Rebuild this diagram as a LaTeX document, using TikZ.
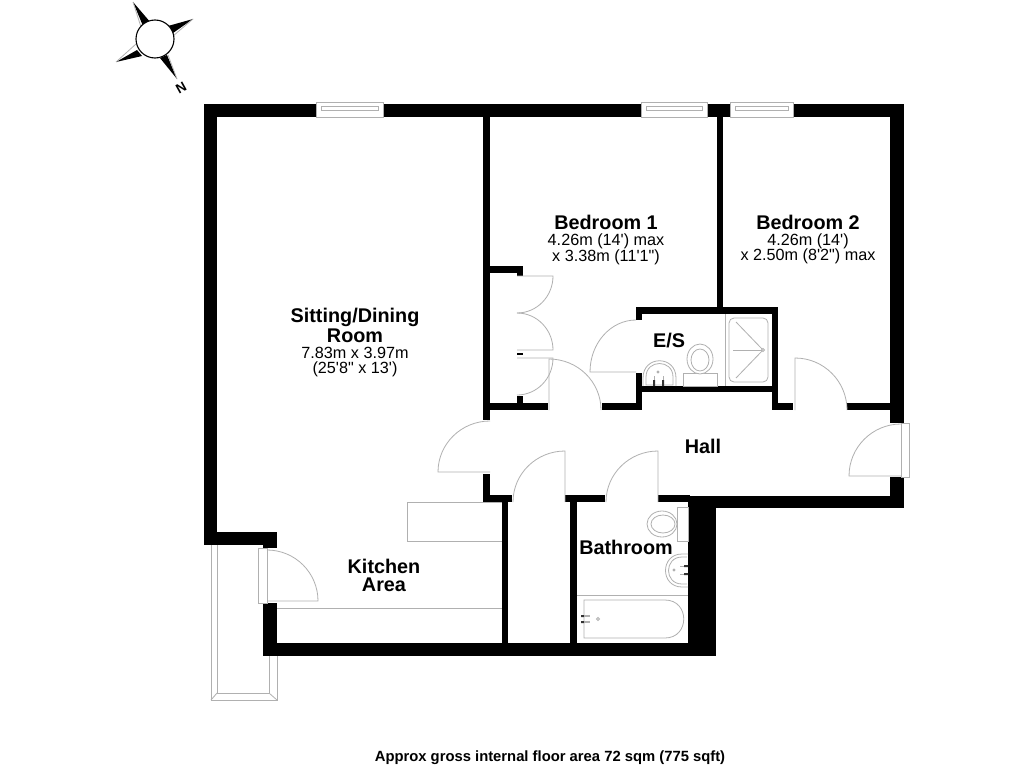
\documentclass[tikz,border=0pt]{standalone}
\usepackage{fontspec}
\usetikzlibrary{calc}
\newfontfamily\lab{Liberation Sans}
\definecolor{ln}{HTML}{B0B0B0}
\tikzset{
  x=1pt,y=-1pt,
  thinln/.style={draw=ln,line width=0.8pt},
  wallfill/.style={fill=black,draw=none},
  title/.style={font=\lab\bfseries\fontsize{19.8}{19.8}\selectfont,inner sep=0pt,anchor=center},
  dims/.style={font=\lab\fontsize{16.2}{16.2}\selectfont,inner sep=0pt,anchor=center},
}
\newcommand{\wallr}[4]{\fill[wallfill] (#1,#2) rectangle (#3,#4);}
\newcommand{\doorq}[4]{\draw[thinln,line join=round] (#1) -- (#2) .. controls ($(#2)!0.5523!(#4)$) and ($(#3)!0.5523!(#4)$) .. (#3);}
\newcommand{\windowr}[2]{%
  \draw[thinln,fill=white] (#1,102) rectangle (#2,117);
  \draw[thinln,line width=0.6pt] ($(#1,106)+(5,0)$) rectangle ($(#2,110)+(-5,0)$);
}
\begin{document}
\begin{tikzpicture}
\useasboundingbox (0,0) rectangle (1024,768);
\fill[white] (0,0) rectangle (1024,768);
% balcony
\draw[thinln] (211,545) -- (211,700) -- (277,700) -- (277,655);
\draw[thinln] (217,545) -- (217,693) -- (269,693) -- (269,655);
\draw[thinln] (211,700) -- (217,693) (277,700) -- (269,693);
% worktops
\draw[thinln] (407,502) rectangle (502,541);
\draw[thinln] (277,608) -- (502,608);
% outer walls
\wallr{204}{104}{904}{117}
\wallr{204}{104}{217}{545}
\wallr{204}{532}{277}{545}
\wallr{263}{532}{277}{548}
\wallr{263}{603}{277}{656}
\wallr{263}{643}{716}{656}
\wallr{688}{496}{716}{656}
\wallr{688}{496}{904}{508}
\wallr{890}{104}{904}{423}
\wallr{890}{477}{904}{508}
% inner walls
\wallr{483}{117}{490}{420}
\wallr{717}{117}{723}{307}
\wallr{490}{266}{523}{273}
\wallr{517}{266}{523}{276}
\wallr{517}{396}{523}{403}
\wallr{483}{403}{548}{410}
\wallr{602}{403}{642}{410}
\wallr{636}{307}{642}{320}
\wallr{636}{373}{642}{410}
\wallr{636}{307}{778}{314}
\wallr{642}{386}{778}{392}
\wallr{772}{307}{778}{410}
\wallr{772}{403}{793}{410}
\wallr{847}{403}{890}{410}
\wallr{483}{474}{490}{502}
\wallr{483}{495}{512}{502}
\wallr{565}{495}{605}{502}
\wallr{658}{495}{690}{502}
\wallr{502}{502}{508}{643}
\wallr{570}{502}{577}{643}
\wallr{517}{353}{523}{355}
% windows
\windowr{316}{383}
\windowr{641}{707}
\windowr{730}{793}
% door frames
\draw[thinln,fill=white] (901,423) rectangle (909,477);
\draw[thinln,fill=white] (258,548) rectangle (267,603);
% doors
\doorq{490,472}{438,472}{490,421}{438,421}
\doorq{517,276}{553,276}{517,313}{553,313}
\doorq{517,350}{553,350}{517,313}{553,313}
\doorq{517,358}{553,358}{517,395}{553,395}
\doorq{549,410}{549,359}{601,410}{601,359}
\doorq{636,372}{590,372}{636,320}{590,320}
\doorq{565,502}{565,451}{513,502}{513,451}
\doorq{658,502}{658,451}{606,502}{606,451}
\doorq{795,410}{795,358}{847,410}{847,358}
\doorq{901,476}{849,476}{901,424}{849,424}
\doorq{267,601}{318,601}{267,550}{318,550}
% shower
\draw[thinln] (725,314) -- (725,386);
\draw[thinln,rounded corners=5pt] (729,318) rectangle (768,382);
\draw[thinln] (736,322) -- (763,350) -- (736,378);
\draw[thinln] (733,350) -- (763,350);
\draw[thinln,fill=white] (763,350) circle (1.5pt);
% E/S WC
\draw[thinln] (683,386) rectangle (717,373);
\draw[thinln,fill=white] (700,359) ellipse [x radius=13pt,y radius=15pt];
\draw[thinln] (700,360) ellipse [x radius=9pt,y radius=11pt];
% E/S basin
\draw[thinln] (643,386) -- (643,378) .. controls (643,355) and (676,355) .. (676,378) -- (676,386);
\draw[thinln] (646,385) -- (646,377) .. controls (646,359) and (673,359) .. (673,377) -- (673,385) -- cycle;
\draw[thinln,fill=white] (658,372) circle (1pt);
\fill[black!80] (653,380) rectangle (655,386) (662,380) rectangle (664,386);
\draw[ln,line width=1pt] (654,376) -- (654,380) (663,376) -- (663,380);
% bathroom WC
\draw[thinln] (677,507) rectangle (688,541);
\draw[thinln,fill=white] (662,524) ellipse [x radius=15pt,y radius=13pt];
\draw[thinln] (663,524) ellipse [x radius=12pt,y radius=9pt];
% bathroom basin
\draw[thinln] (688,554) -- (682,554) .. controls (660,554) and (660,587) .. (682,587) -- (688,587);
\draw[thinln] (687,557) -- (682,557) .. controls (664,557) and (664,584) .. (682,584) -- (687,584);
\draw[thinln,fill=white] (674,570) circle (1pt);
\fill[black!80] (684,565) rectangle (688,567) (684,573) rectangle (688,575);
\draw[ln,line width=1pt] (680,566) -- (684,566) (680,574) -- (684,574);
% bath
\draw[thinln] (577,595) -- (688,595);
\draw[thinln] (584,600) -- (665,600) .. controls (690,600) and (690,638) .. (665,638) -- (584,638) -- cycle;
\fill[black!80] (581,615) rectangle (584,617) (581,621) rectangle (584,623);
\draw[ln,line width=1.5pt] (584,616) -- (590,616) (584,622) -- (590,622);
\draw[thinln] (598,619) circle (1.5pt);
% compass
\fill[black] (133,2) -- (151,23) -- (143,26) -- cycle;
\draw[thinln] (133,2) -- (141,27);
\fill[black] (193,19) -- (168,26) -- (173,33) -- cycle;
\draw[thinln] (193,19) -- (173,36);
\fill[black] (116,62) -- (137,50) -- (142,56) -- cycle;
\draw[thinln] (116,62) -- (136,44);
\fill[black] (177,79) -- (160,58) -- (167,55) -- cycle;
\draw[thinln] (177,79) -- (168,55);
\draw[black,fill=white,line width=1.1pt] (155,39) circle (19pt);
\node[font=\lab\bfseries\fontsize{13.5}{13.5}\selectfont,inner sep=0pt,rotate=-151] (northlabel) at (181,88) {N};
% labels
\node[title] (bedonet) at (606,222) {Bedroom 1};
\node[dims] (bedoned) at (606,241) {4.26m (14') max};
\node[dims] (bedonee) at (606,257) {x 3.38m (11'1")};
\node[title] (bedtwot) at (808,222) {Bedroom 2};
\node[dims] (bedtwod) at (808,241) {4.26m (14')};
\node[dims] (bedtwoe) at (808,256) {x 2.50m (8'2") max};
\node[title] (sitt) at (355,317) {Sitting/Dining};
\node[title] (sitr) at (355,336) {Room};
\node[dims] (sitd) at (355,353) {7.83m x 3.97m};
\node[dims] (site) at (355,369) {(25'8" x 13')};
\node[title] (ens) at (669,341) {E/S};
\node[title] (hall) at (703,446) {Hall};
\node[title] (bath) at (626,547) {Bathroom};
\node[title] (kit) at (384,566) {Kitchen};
\node[title] (area) at (384,585) {Area};
\node[font=\lab\bfseries\fontsize{14.8}{14.8}\selectfont,inner sep=0pt] (foot) at (550,758) {Approx gross internal floor area 72 sqm (775 sqft)};
\end{tikzpicture}
\end{document}
